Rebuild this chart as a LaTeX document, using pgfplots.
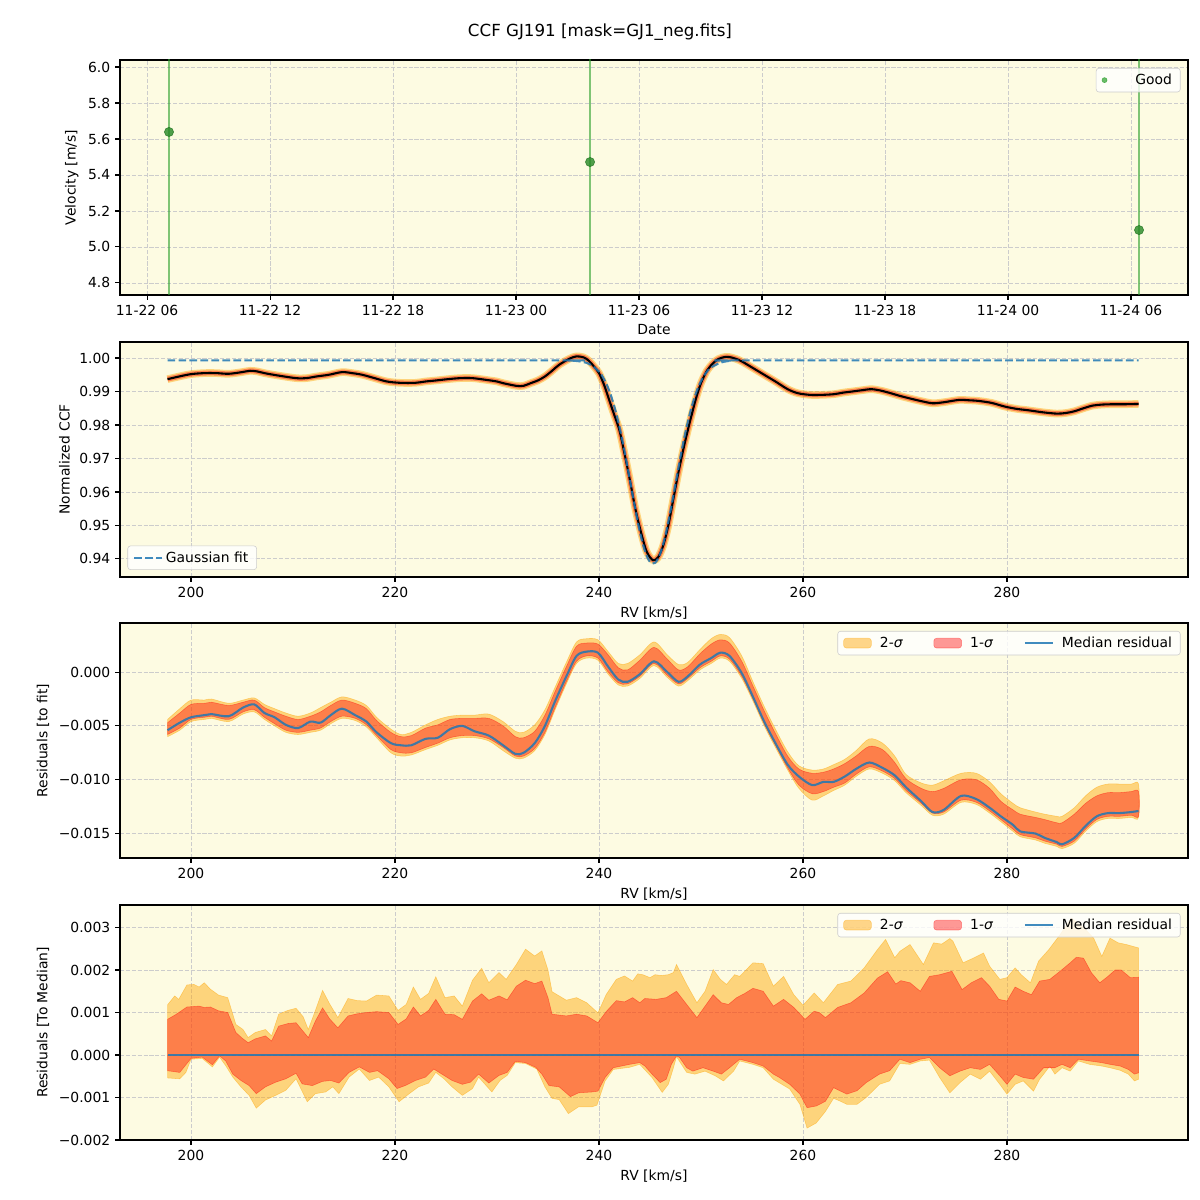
\documentclass[border=0pt]{standalone}
\usepackage{fontspec}
\setmainfont{DejaVu Sans}
\usepackage{pgfplots}
\usepackage{pgfplotstable}
\pgfplotsset{compat=1.18}

\definecolor{bgyel}{RGB}{253,251,226}
\definecolor{tabblue}{RGB}{31,119,180}
\definecolor{tabgreen}{RGB}{44,160,44}
\definecolor{sigtwo}{RGB}{255,165,0}
\definecolor{sigone}{RGB}{255,0,0}

% normalized CCF (median)
\pgfplotstableread{
x y
197.7 0.9937
199.0 0.9946
200.0 0.9952
201.3 0.9955
202.5 0.9955
203.7 0.9953
205.0 0.9958
205.8 0.9962
206.5 0.9960
207.2 0.9955
208.5 0.9948
210.3 0.9940
211.3 0.9940
212.3 0.9945
213.5 0.9950
214.8 0.9958
215.8 0.9955
216.8 0.9950
218.0 0.9940
219.2 0.9930
220.5 0.9926
222.0 0.9926
223.0 0.9930
224.0 0.9933
225.2 0.9937
226.4 0.9940
227.6 0.9940
228.9 0.9935
230.0 0.9930
230.6 0.9925
231.9 0.9917
232.6 0.9917
233.3 0.9925
234.0 0.9933
234.7 0.9945
235.4 0.9962
236.1 0.9980
237.1 0.9998
237.8 1.0005
238.5 1.0002
239.0 0.9992
239.5 0.9975
240.0 0.9955
240.5 0.9920
241.0 0.9875
241.5 0.9830
242.0 0.9785
242.5 0.9715
243.0 0.9640
243.6 0.9545
244.2 0.9470
244.7 0.9420
245.3 0.9396
245.8 0.9405
246.3 0.9440
246.8 0.9500
247.3 0.9580
247.8 0.9660
248.4 0.9745
249.0 0.9820
249.5 0.9878
250.0 0.9925
250.6 0.9963
251.2 0.9985
251.7 0.9997
252.3 1.0003
252.8 1.0003
253.4 0.9998
254.0 0.9990
255.0 0.9972
256.2 0.9950
257.3 0.9930
258.5 0.9907
259.5 0.9895
260.7 0.9890
261.8 0.9890
263.0 0.9892
264.0 0.9897
264.8 0.9900
265.8 0.9904
266.7 0.9907
267.6 0.9903
268.6 0.9895
269.5 0.9887
270.4 0.9880
271.5 0.9872
272.7 0.9865
273.8 0.9868
275.3 0.9875
276.2 0.9874
277.2 0.9872
278.5 0.9866
279.8 0.9855
281.0 0.9848
282.1 0.9844
283.5 0.9838
284.9 0.9834
285.8 0.9836
286.6 0.9841
287.5 0.9850
288.4 0.9858
289.3 0.9861
290.3 0.9862
291.5 0.9862
292.9 0.9863
}\ccf

% gaussian fit, read at points
\pgfplotstableread{
x y
197.7 0.9993
236.0 0.9993
237.0 0.99925
238.0 0.99905
239.0 0.9983
240.0 0.9960
240.5 0.9937
241.0 0.9903
241.5 0.9856
242.0 0.9796
242.5 0.9723
243.0 0.9641
243.5 0.9558
244.0 0.9482
244.5 0.9424
245.0 0.9391
245.5 0.9388
246.0 0.9415
246.5 0.9469
247.0 0.9542
247.5 0.9624
248.0 0.9707
248.5 0.9782
249.0 0.9845
249.5 0.9895
250.0 0.9931
250.5 0.9956
251.0 0.9972
252.0 0.9987
253.0 0.9992
254.0 0.9993
292.9 0.9993
}\gfit

% residuals to fit, units of 1e-3
\pgfplotstableread{
x m l2 l1 u1 u2
197.7 -5.4 -6.0 -5.8 -4.7 -4.4
198.9 -4.7 -5.4 -5.2 -3.8 -3.4
200.0 -4.2 -4.6 -4.4 -3.0 -2.6
201.3 -4.0 -4.4 -4.2 -2.9 -2.6
202.0 -3.9 -4.3 -4.1 -2.8 -2.5
203.7 -4.1 -4.6 -4.4 -3.1 -2.9
205.1 -3.3 -3.9 -3.7 -2.8 -2.6
206.2 -3.0 -3.7 -3.5 -2.6 -2.4
207.2 -3.8 -4.4 -4.2 -3.3 -3.0
208.2 -4.2 -5.0 -4.8 -3.7 -3.4
209.3 -4.9 -5.6 -5.4 -4.1 -3.8
210.5 -5.2 -5.8 -5.6 -4.4 -4.1
211.7 -4.6 -5.6 -5.4 -4.1 -3.8
212.7 -4.7 -5.4 -5.2 -3.7 -3.3
213.7 -4.0 -4.8 -4.6 -3.1 -2.8
214.8 -3.4 -4.3 -4.1 -2.6 -2.3
216.1 -4.0 -4.5 -4.3 -2.9 -2.6
217.2 -4.6 -5.1 -4.9 -3.4 -3.1
218.2 -5.6 -6.1 -5.9 -4.5 -4.2
219.6 -6.6 -7.5 -7.2 -5.6 -5.3
220.6 -6.8 -7.8 -7.5 -6.0 -5.8
221.6 -6.8 -7.7 -7.5 -5.9 -5.6
223.0 -6.2 -7.2 -7.0 -5.2 -4.9
224.2 -6.1 -6.8 -6.6 -4.9 -4.4
225.4 -5.3 -6.3 -6.1 -4.4 -4.1
226.6 -5.0 -6.1 -5.9 -4.3 -4.0
227.8 -5.5 -6.1 -5.9 -4.3 -4.0
229.2 -5.9 -6.4 -6.2 -4.3 -3.9
230.6 -6.8 -7.3 -7.0 -5.0 -4.6
231.8 -7.6 -8.0 -7.8 -6.0 -5.5
232.6 -7.5 -8.0 -7.8 -6.1 -5.6
233.7 -6.6 -7.3 -7.1 -5.5 -4.9
234.7 -5.0 -5.8 -5.6 -4.0 -3.5
235.7 -2.7 -3.5 -3.3 -1.8 -1.4
236.8 -0.4 -1.1 -0.9 0.5 0.9
237.8 1.5 0.8 1.0 2.4 2.8
238.8 1.9 1.3 1.5 2.7 3.1
239.9 1.8 1.1 1.3 2.6 3.0
240.9 0.5 -0.2 0.0 1.6 1.9
241.9 -0.7 -1.2 -1.0 0.4 0.8
242.8 -0.9 -1.3 -1.1 0.2 0.8
244.0 -0.2 -0.6 -0.4 1.1 1.6
245.4 1.0 0.6 0.8 2.3 2.8
246.7 0.0 -0.5 -0.3 1.2 1.6
247.8 -0.9 -1.3 -1.1 0.2 0.7
248.7 -0.4 -0.8 -0.6 0.5 0.9
249.9 0.7 0.2 0.4 1.7 2.1
251.0 1.3 0.8 1.0 2.6 3.1
251.9 1.8 1.3 1.5 3.0 3.5
252.8 1.5 1.0 1.2 2.7 3.2
254.0 -0.1 -0.6 -0.4 1.0 1.5
255.1 -2.3 -2.7 -2.5 -1.3 -0.9
256.2 -4.6 -5.0 -4.8 -3.6 -3.2
257.3 -6.6 -7.0 -6.8 -5.7 -5.3
258.5 -8.6 -9.1 -8.9 -7.8 -7.4
259.6 -9.7 -10.8 -10.5 -9.0 -8.7
260.9 -10.5 -11.9 -11.3 -9.4 -9.1
262.0 -10.2 -11.5 -11.1 -9.3 -9.0
263.0 -10.2 -11.0 -10.7 -9.0 -8.6
264.1 -9.7 -10.5 -10.3 -8.5 -8.1
265.2 -9.0 -9.7 -9.5 -7.8 -7.3
266.5 -8.4 -9.0 -8.8 -6.9 -6.2
267.8 -8.9 -9.4 -9.2 -7.2 -6.6
269.0 -9.6 -10.1 -9.9 -8.4 -7.8
270.1 -10.7 -11.2 -11.0 -9.9 -9.5
271.6 -12.0 -12.4 -12.2 -10.8 -10.3
272.7 -13.0 -13.3 -13.1 -11.1 -10.5
273.8 -12.8 -13.2 -13.0 -10.8 -10.1
275.5 -11.5 -12.1 -11.9 -10.0 -9.4
277.0 -11.8 -12.3 -12.1 -10.0 -9.4
278.3 -12.6 -13.1 -12.9 -10.8 -10.2
279.4 -13.4 -13.9 -13.7 -12.0 -11.3
280.6 -14.2 -14.8 -14.6 -12.8 -12.2
281.3 -14.8 -15.3 -15.1 -13.2 -12.6
282.8 -15.0 -15.6 -15.4 -13.5 -13.0
283.7 -15.4 -15.9 -15.7 -13.7 -13.2
284.9 -15.8 -16.2 -16.0 -14.0 -13.4
285.4 -16.0 -16.4 -16.2 -14.0 -13.4
286.6 -15.4 -15.9 -15.7 -13.2 -12.6
287.7 -14.3 -14.8 -14.6 -12.2 -11.5
288.8 -13.4 -13.9 -13.7 -11.5 -10.7
289.9 -13.1 -13.6 -13.4 -11.2 -10.4
291.0 -13.1 -13.6 -13.4 -11.2 -10.4
292.2 -13.0 -13.5 -13.3 -11.1 -10.4
292.9 -12.9 -13.5 -13.4 -11.1 -10.4
}\resfit

% residuals to median, units of 1e-3: 2-sigma upper edge
\pgfplotstableread{
x y
197.7 1.18
198.4 1.39
198.8 1.31
199.6 1.65
200.3 1.66
200.8 1.60
201.3 1.70
201.9 1.55
202.7 1.41
203.6 1.35
204.4 0.72
205.1 0.60
205.6 0.41
206.3 0.53
207.3 0.60
207.9 0.45
208.6 0.96
209.5 1.05
210.3 1.10
211.0 0.90
211.5 0.60
212.2 1.05
212.9 1.52
213.6 1.20
214.4 0.88
215.4 1.33
216.3 1.28
217.2 1.27
218.2 1.41
219.4 1.39
220.3 1.05
221.1 1.19
221.8 1.60
222.5 1.31
223.3 1.45
224.0 1.84
224.9 1.35
225.8 1.39
226.6 1.15
227.6 1.76
228.5 2.04
229.2 1.70
230.2 1.94
230.9 1.78
231.9 2.13
232.8 2.49
233.3 2.40
233.7 2.33
234.4 2.45
235.0 2.00
235.4 1.49
236.8 1.29
237.8 1.35
238.8 1.23
239.9 0.99
240.7 1.42
241.7 1.78
242.5 1.86
243.3 1.74
243.8 1.91
244.3 1.89
245.0 1.82
245.5 1.89
246.1 1.87
246.8 1.89
247.3 1.94
247.6 2.13
248.6 1.66
249.6 1.23
250.4 1.50
251.2 2.01
251.9 1.78
252.5 1.66
253.3 1.89
253.8 1.85
255.1 2.17
256.1 2.15
257.1 1.62
258.1 1.85
259.1 1.42
260.0 1.17
261.1 1.46
262.0 1.23
263.4 1.66
264.7 1.74
266.0 2.05
267.3 2.48
268.1 2.72
269.0 2.29
269.5 2.44
270.5 2.60
271.8 2.13
272.8 2.64
273.6 2.61
274.4 2.74
274.7 2.68
275.7 2.17
276.7 2.28
277.7 2.40
278.3 2.09
279.3 1.78
280.0 1.82
280.8 2.05
281.4 1.89
282.3 1.70
283.1 2.21
284.1 2.48
285.2 2.83
286.3 3.22
287.5 3.00
288.5 2.75
289.3 2.32
290.1 2.75
290.9 2.64
291.7 2.60
292.9 2.52
}\medutwo

% 1-sigma upper edge
\pgfplotstableread{
x y
197.7 0.84
198.5 0.95
199.6 1.13
200.8 1.15
201.3 1.12
201.9 1.13
202.7 1.04
203.6 1.00
204.4 0.53
205.0 0.40
205.6 0.29
206.3 0.38
207.3 0.45
207.9 0.33
208.6 0.68
209.5 0.74
210.3 0.76
211.5 0.41
212.2 0.80
212.9 1.11
213.6 0.85
214.4 0.64
215.4 0.92
216.3 0.97
217.2 1.00
218.2 1.02
219.4 1.00
220.3 0.72
221.1 0.85
221.8 1.13
222.5 0.92
223.3 1.05
224.0 1.31
224.9 0.96
225.8 0.95
226.6 0.84
227.6 1.27
228.5 1.44
229.2 1.29
230.2 1.39
231.0 1.30
231.9 1.62
232.8 1.76
233.7 1.68
234.4 1.74
235.0 1.35
235.4 0.96
236.8 0.92
237.8 0.96
238.8 0.92
239.9 0.76
240.7 1.02
241.7 1.28
242.5 1.25
243.3 1.35
244.0 1.23
244.5 1.33
245.6 1.31
246.6 1.35
247.6 1.50
248.6 1.19
249.6 0.88
250.4 1.15
251.2 1.42
252.0 1.23
252.7 1.19
253.5 1.35
254.3 1.45
255.1 1.57
256.1 1.50
257.1 1.15
258.1 1.31
259.1 1.12
260.2 0.84
261.1 1.03
261.6 1.00
262.2 0.88
263.4 1.12
264.7 1.23
266.0 1.46
267.3 1.81
268.3 1.96
269.1 1.67
269.6 1.75
270.5 1.70
271.5 1.50
272.4 1.85
273.4 1.89
274.6 1.97
275.6 1.54
276.5 1.70
277.5 1.82
278.3 1.62
279.2 1.31
280.0 1.27
280.8 1.60
281.6 1.50
282.4 1.42
283.2 1.74
284.2 1.78
285.2 1.97
286.2 2.17
286.8 2.30
287.5 2.28
288.3 1.93
289.1 1.70
289.9 1.85
290.6 2.00
291.2 2.00
292.1 1.82
292.9 1.83
}\meduone

% 1-sigma lower edge
\pgfplotstableread{
x y
197.7 -0.37
198.9 -0.41
199.3 -0.29
200.0 -0.08
201.1 -0.05
202.1 -0.23
202.8 -0.02
203.4 -0.14
204.1 -0.45
204.9 -0.60
205.7 -0.72
206.4 -0.91
207.3 -0.75
208.3 -0.64
209.3 -0.56
210.3 -0.43
210.9 -0.68
211.9 -0.72
212.9 -0.62
213.7 -0.60
214.5 -0.66
215.5 -0.41
216.5 -0.28
217.5 -0.41
218.3 -0.37
219.4 -0.56
220.2 -0.79
221.0 -0.72
222.0 -0.60
223.0 -0.52
223.8 -0.33
224.6 -0.45
225.6 -0.60
226.6 -0.69
227.4 -0.64
228.2 -0.45
229.2 -0.66
230.2 -0.48
231.0 -0.41
231.8 -0.15
232.8 -0.18
233.8 -0.29
234.4 -0.45
235.1 -0.72
236.1 -0.75
237.2 -0.98
238.0 -0.89
239.3 -0.87
239.9 -0.85
240.6 -0.53
241.4 -0.30
243.0 -0.22
244.0 -0.18
244.5 -0.26
245.2 -0.45
246.0 -0.65
246.6 -0.57
247.1 -0.22
247.6 -0.02
247.9 -0.06
248.6 -0.30
249.2 -0.38
250.2 -0.30
251.2 -0.38
252.0 -0.45
252.8 -0.30
253.8 -0.10
255.1 -0.18
256.1 -0.26
257.1 -0.45
257.7 -0.53
258.7 -0.69
259.7 -0.92
260.4 -1.24
261.3 -1.20
262.2 -1.09
263.0 -0.77
263.6 -0.84
264.3 -0.92
265.3 -0.84
266.2 -0.65
267.5 -0.45
268.5 -0.37
269.5 -0.10
270.5 -0.18
271.5 -0.10
272.4 -0.06
273.4 -0.30
274.4 -0.49
275.4 -0.38
276.4 -0.30
277.4 -0.34
278.3 -0.22
279.3 -0.49
280.0 -0.69
280.8 -0.45
281.6 -0.53
282.6 -0.57
283.6 -0.30
284.7 -0.30
285.4 -0.22
286.2 -0.30
287.0 -0.10
288.1 -0.14
289.3 -0.18
290.1 -0.22
291.1 -0.26
291.9 -0.34
292.5 -0.45
292.9 -0.42
}\medlone

% 2-sigma lower edge
\pgfplotstableread{
x y
197.7 -0.54
198.9 -0.56
199.5 -0.41
200.0 -0.10
201.1 -0.08
202.1 -0.28
202.8 -0.05
203.4 -0.25
204.1 -0.52
204.9 -0.75
205.7 -0.95
206.4 -1.25
207.3 -1.06
208.3 -0.95
209.3 -0.83
210.3 -0.56
211.4 -1.10
212.2 -0.91
213.2 -0.87
213.9 -0.75
214.5 -0.91
215.5 -0.52
216.5 -0.33
217.5 -0.60
218.4 -0.52
219.4 -0.75
220.4 -1.10
221.4 -0.91
222.3 -0.75
223.3 -0.66
224.0 -0.41
224.8 -0.56
225.6 -0.75
226.6 -0.95
227.6 -0.79
228.2 -0.52
229.5 -0.87
230.3 -0.60
231.0 -0.48
231.8 -0.18
232.8 -0.20
233.9 -0.33
234.7 -0.75
235.4 -1.02
236.1 -1.05
237.0 -1.38
238.0 -1.22
239.3 -1.22
239.8 -1.18
240.6 -0.61
241.4 -0.34
243.0 -0.29
244.0 -0.22
245.2 -0.53
246.2 -0.88
246.8 -0.69
247.3 -0.30
247.6 -0.04
248.6 -0.41
249.4 -0.45
250.4 -0.38
251.4 -0.49
252.2 -0.61
253.2 -0.38
253.8 -0.14
255.1 -0.22
256.1 -0.30
257.1 -0.57
258.7 -0.80
259.7 -1.16
260.4 -1.72
261.3 -1.60
262.2 -1.33
263.0 -1.02
263.6 -1.08
264.3 -1.16
265.3 -1.16
266.2 -1.00
267.5 -0.69
268.5 -0.61
269.5 -0.20
270.5 -0.22
271.5 -0.14
272.4 -0.12
273.4 -0.53
274.4 -0.89
275.4 -0.65
276.4 -0.45
277.4 -0.57
278.3 -0.38
279.3 -0.69
280.0 -0.92
280.8 -0.69
281.6 -0.61
282.6 -0.85
283.2 -0.57
283.6 -0.45
284.2 -0.26
284.7 -0.45
285.4 -0.30
286.2 -0.38
287.0 -0.14
288.1 -0.22
289.3 -0.26
290.1 -0.30
291.1 -0.36
291.9 -0.45
292.5 -0.61
292.9 -0.57
}\medltwo

% band outlines: upper edge forward, lower edge backward
\pgfplotstablesort[sort key=x, sort cmp=float >]{\rltwo}{\medltwo}
\pgfplotstablevertcat{\medutwo}{\rltwo}
\pgfplotstablesort[sort key=x, sort cmp=float >]{\rlone}{\medlone}
\pgfplotstablevertcat{\meduone}{\rlone}

\pgfplotstablesort[sort key=x, sort cmp=float <]{\respoly}{\resfit}
\pgfplotstablesort[sort key=x, sort cmp=float >]{\resrev}{\resfit}
\pgfplotstablevertcat{\respoly}{\resrev}
\pgfplotstablegetrowsof{\resfit}
\edef\nres{\pgfplotsretval}

\pgfplotsset{
  panel/.style={
    scale only axis, width=768.96pt, height=169.2pt, anchor=south west,
    axis background/.style={fill=bgyel},
    axis line style={line width=0.8pt},
    tick align=outside, major tick length=3.5pt,
    tick style={black, line width=0.8pt},
    xtick pos=left, ytick pos=left,
    grid=major,
    grid style={dash pattern=on 2.96pt off 1.28pt, black!20, line width=0.6pt},
    tick label style={font=\fontsize{10}{12}\selectfont},
    label style={font=\fontsize{10}{12}\selectfont},
    /pgf/number format/assume math mode=true,
    legend cell align=left,
    legend style={draw=black!20, fill=white, fill opacity=0.8, text opacity=1,
      rounded corners=2pt, inner xsep=4pt, inner ysep=2pt,
      font=\fontsize{10}{12}\selectfont},
  },
  rvpanel/.style={panel, xmin=193.04, xmax=297.75,
    xtick={200,220,240,260,280}, xlabel={RV [km/s]}},
  bandlegend/.style={legend columns=3,
    legend style={at={(0.993,0.966)}, anchor=north east,
      /tikz/every even column/.append style={column sep=20pt},
      /tikz/every odd column/.append style={column sep=4pt}}},
  patchleg/.style={legend image code/.code={\draw[##1] (0pt,-3.5pt) rectangle (20pt,3.5pt);}},
  lineleg/.style={legend image code/.code={\draw[##1] (0pt,0pt) -- (20pt,0pt);}},
  dotleg/.style={legend image code/.code={%
    \node[inner sep=0pt, minimum width=20pt, minimum height=4pt] at (10pt,0pt) {};
    \fill[tabgreen, opacity=0.7] (10pt,0pt) circle (1.8pt);}},
  band2/.style={area legend, fill=sigtwo, fill opacity=0.45, draw=sigtwo, draw opacity=0.45, patchleg},
  band1/.style={area legend, fill=sigone, fill opacity=0.4, draw=sigone, draw opacity=0.4, patchleg},
  medline/.style={tabblue, opacity=0.85, line width=1.5pt, lineleg},
}

\begin{document}
\begin{tikzpicture}
\path[use as bounding box] (0,0) rectangle (864pt,864pt);
\node[font=\fontsize{12}{14}\selectfont] at (432pt,840.96pt) {CCF GJ191 [mask=GJ1\_neg.fits]};

% velocity vs date
\begin{axis}[panel, at={(86.4pt,651.6pt)},
  xmin=4.68, xmax=56.78, ymin=4.733, ymax=6.039,
  xtick={6,12,18,24,30,36,42,48,54},
  xticklabels={11-22 06,11-22 12,11-22 18,11-23 00,11-23 06,11-23 12,11-23 18,11-24 00,11-24 06},
  ytick={4.8,5.0,5.2,5.4,5.6,5.8,6.0},
  yticklabel style={/pgf/number format/.cd, fixed, fixed zerofill, precision=1},
  xlabel={Date}, ylabel={Velocity [m/s]},
  legend style={at={(0.993,0.966)}, anchor=north east},
  ]
  \addplot[tabgreen, opacity=0.6, line width=1.5pt, forget plot] coordinates {(7.07,4.6) (7.07,6.2)};
  \addplot[tabgreen, opacity=0.6, line width=1.5pt, forget plot] coordinates {(27.61,4.6) (27.61,6.2)};
  \addplot[tabgreen, opacity=0.6, line width=1.5pt, forget plot] coordinates {(54.39,4.6) (54.39,6.2)};
  \addplot[only marks, mark=*, mark size=3.3pt, dotleg,
    mark options={fill=tabgreen!85!black, fill opacity=0.8, draw=tabgreen!70!black, draw opacity=0.8}]
    coordinates {(7.07,5.639) (27.61,5.472) (54.39,5.094)};
  \addlegendentry{Good}
  \node[anchor=south west, inner sep=0pt, yshift=3pt, font=\fontsize{10}{12}\selectfont]
    at (rel axis cs:0,1) {+2.4527e5};
\end{axis}

% normalized CCF
\begin{axis}[rvpanel, at={(86.4pt,448.56pt)},
  ymin=0.9346, ymax=1.0048,
  ytick={0.94,0.95,0.96,0.97,0.98,0.99,1.00},
  yticklabel style={/pgf/number format/.cd, fixed, fixed zerofill, precision=2},
  ylabel={Normalized CCF},
  legend style={at={(0.007,0.03)}, anchor=south west},
  ]
  \addplot[smooth, sigtwo, opacity=0.45, line width=5.5pt, line join=round, forget plot] table {\ccf};
  \addplot[smooth, sigone, opacity=0.4, line width=3.5pt, line join=round, forget plot] table {\ccf};
  \addplot[smooth, black, line width=1.5pt, forget plot] table {\ccf};
  \addplot[smooth, tabblue, opacity=0.85, line width=1.5pt, dash pattern=on 5.5pt off 2.4pt, lineleg] table {\gfit};
  \addlegendentry{Gaussian fit}
\end{axis}

% residuals to fit
\begin{axis}[rvpanel, bandlegend, at={(86.4pt,246.24pt)},
  ymin=-17.27, ymax=4.56,
  ytick={-15,-10,-5,0},
  yticklabels={−0.015,−0.010,−0.005,0.000},
  ylabel={Residuals [to fit]},
  ]
  \addplot[band2, smooth] table[x=x, y expr={\coordindex<\nres ? \thisrow{u2} : \thisrow{l2}}] {\respoly} -- cycle;
  \addlegendentry{2-\textit{σ}}
  \addplot[band1, smooth] table[x=x, y expr={\coordindex<\nres ? \thisrow{u1} : \thisrow{l1}}] {\respoly} -- cycle;
  \addlegendentry{1-\textit{σ}}
  \addplot[medline, smooth] table[x=x, y=m] {\resfit};
  \addlegendentry{Median residual}
\end{axis}

% residuals to median
\begin{axis}[rvpanel, bandlegend, at={(86.4pt,43.2pt)},
  ymin=-2.0, ymax=3.53,
  ytick={-2,-1,0,1,2,3},
  yticklabels={−0.002,−0.001,0.000,0.001,0.002,0.003},
  ylabel={Residuals [To Median]},
  ]
  \addplot[band2] table {\medutwo} -- cycle;
  \addlegendentry{2-\textit{σ}}
  \addplot[band1] table {\meduone} -- cycle;
  \addlegendentry{1-\textit{σ}}
  \addplot[medline] coordinates {(197.7,0) (292.9,0)};
  \addlegendentry{Median residual}
\end{axis}
\end{tikzpicture}
\end{document}
